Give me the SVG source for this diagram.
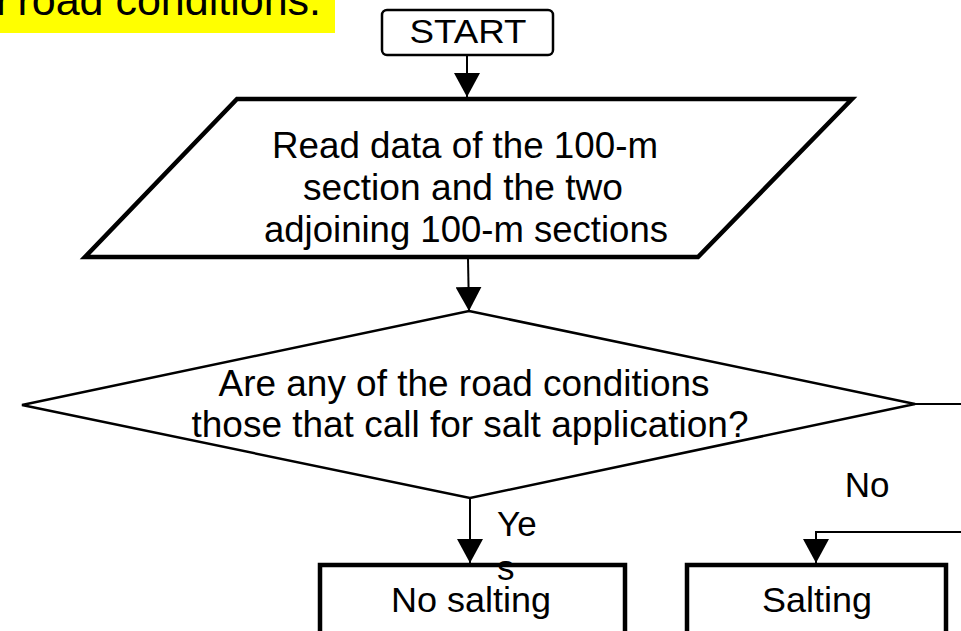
<svg xmlns="http://www.w3.org/2000/svg" width="961" height="631" viewBox="0 0 961 631">
<style>
  text { font-family: "Liberation Sans", Arial, sans-serif; fill: #000; }
  .shape { fill: #fff; stroke: #000; }
  .thick { stroke-width: 4.5; }
  .thin { stroke-width: 2.5; }
  .conn { fill: none; stroke: #000; stroke-width: 2; }
</style>
<defs>
  <marker id="arrow" viewBox="0 0 24 26" refX="24" refY="13" markerWidth="24" markerHeight="26" markerUnits="userSpaceOnUse" orient="auto">
    <path d="M0,0 L24,13 L0,26 Z" fill="#000"/>
  </marker>
</defs>
<rect width="961" height="631" fill="#fff"/>
<g id="banner">
  <rect x="0" y="0" width="335" height="33" fill="#ffff00"/>
  <text y="15" font-size="43"><tspan x="-4">r</tspan><tspan x="321" text-anchor="end">road conditions.</tspan></text>
</g>
<g id="connectors">
  <path class="conn" d="M467,55 V97" marker-end="url(#arrow)"/>
  <path class="conn" d="M468,259 L469,311" marker-end="url(#arrow)"/>
  <path class="conn" d="M470,498 V563" marker-end="url(#arrow)"/>
  <path class="conn" d="M915,404 H975 V532 H816 V563" marker-end="url(#arrow)"/>
</g>
<g id="start">
  <rect class="shape thin" x="382" y="10" width="171" height="45" rx="5"/>
  <text x="468" y="43" font-size="34" text-anchor="middle" textLength="117" lengthAdjust="spacingAndGlyphs">START</text>
</g>
<g id="read-data">
  <polygon class="shape thick" points="237,99 852,99 698,257 85,257"/>
  <text x="465" y="158" font-size="36" text-anchor="middle" textLength="386" lengthAdjust="spacingAndGlyphs">Read data of the 100-m</text>
  <text x="463" y="200" font-size="36" text-anchor="middle" textLength="320" lengthAdjust="spacingAndGlyphs">section and the two</text>
  <text x="466" y="242" font-size="36" text-anchor="middle" textLength="404" lengthAdjust="spacingAndGlyphs">adjoining 100-m sections</text>
</g>
<g id="decision">
  <polygon class="shape thin" points="469,311 915,404 470,498 22,405"/>
  <text x="464" y="396" font-size="36" text-anchor="middle" textLength="491" lengthAdjust="spacingAndGlyphs">Are any of the road conditions</text>
  <text x="470" y="437" font-size="36" text-anchor="middle" textLength="557" lengthAdjust="spacingAndGlyphs">those that call for salt application?</text>
</g>
<g id="label-no">
  <text x="867" y="497" font-size="35" text-anchor="middle">No</text>
</g>
<g id="no-salting">
  <rect class="shape thick" x="320" y="565" width="305" height="90"/>
  <text x="471" y="612" font-size="35" text-anchor="middle" textLength="160" lengthAdjust="spacingAndGlyphs">No salting</text>
</g>
<g id="salting">
  <rect class="shape thick" x="687" y="565" width="259" height="90"/>
  <text x="817" y="612" font-size="35" text-anchor="middle" textLength="110" lengthAdjust="spacingAndGlyphs">Salting</text>
</g>
<g id="label-yes">
  <text x="497" y="536" font-size="35">Ye</text>
  <text x="497" y="580" font-size="35">s</text>
</g>
</svg>
